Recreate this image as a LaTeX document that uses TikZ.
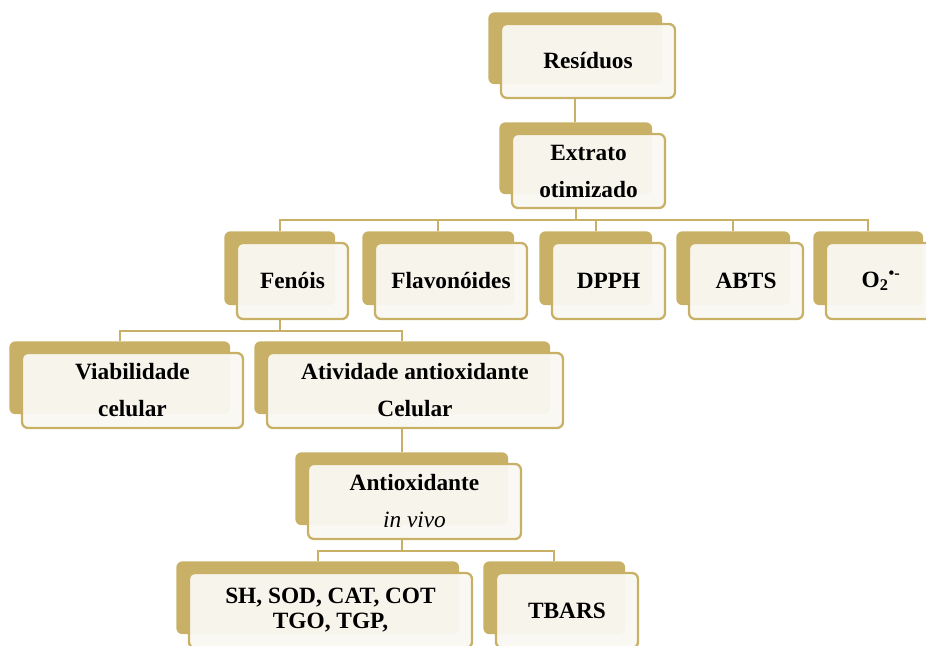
\documentclass[tikz,border=0pt]{standalone}
\usepackage{fontspec}
\setmainfont{Liberation Serif}
\usetikzlibrary{backgrounds}
\definecolor{gold}{RGB}{200,177,102}
\definecolor{cream}{RGB}{250,248,243}
\begin{document}
\begin{tikzpicture}[x=0.75pt,y=-0.75pt,
  front/.style 2 args={draw=gold, line width=1.7pt, fill=cream, fill opacity=0.95, text opacity=1,
    rounded corners=4.5pt, minimum width=#1*0.75pt, minimum height=#2*0.75pt, inner sep=0pt,
    align=center, font=\fontsize{17.5}{27.75}\selectfont\bfseries},
  tight/.style={font=\fontsize{17.5}{18.75}\selectfont\bfseries},
  backbox/.style={fill=gold, rounded corners=4.5pt},
  link/.style={draw=gold, line width=1.8pt}]
\useasboundingbox (0,0) rectangle (926,646);
\clip (0,0) rectangle (926,646);

\node[front={174}{74}] (res) at (588,61) {Resíduos};
\node[front={153}{74}] (ext) at (588.5,171) {Extrato\\otimizado};
\node[front={111}{76}] (fen) at (292.5,281) {Fenóis};
\node[front={152}{76}] (fla) at (451,281) {Flavonóides};
\node[front={113}{76}] (dpph) at (608.5,281) {DPPH};
\node[front={114}{76}] (abts) at (746,281) {ABTS};
\node[front={110}{76}] (o2) at (881,281) {O\textsubscript{2}\textsuperscript{•-}};
\node[front={221}{75}] (via) at (132.5,390.5) {Viabilidade\\celular};
\node[front={296}{75}] (ati) at (415,390.5) {Atividade antioxidante\\Celular};
\node[front={213}{75}] (anti) at (414.5,501.5) {Antioxidante\\{\mdseries\itshape in vivo}};
\node[front={283}{75}, tight] (sh) at (330.5,610.5) {SH, SOD, CAT, COT\\TGO, TGP,};
\node[front={142}{75}] (tb) at (567,610.5) {TBARS};

\foreach \n in {res,ext,fen,fla,dpph,abts,o2,via,ati,anti,sh,tb}{
  \coordinate (\n-t) at ([shift={(-12.75,-10.5)}]\n.north);
  \coordinate (\n-b) at ([shift={(-12.75,0)}]\n.south);
}
\coordinate (bus1) at (0,220);
\coordinate (bus2) at (0,331);
\coordinate (bus3) at (0,551);

\begin{scope}[on background layer]
\fill[white] (0,0) rectangle (926,646);
\foreach \n in {res,ext,fen,fla,dpph,abts,o2,via,ati,anti,sh,tb}{
  \fill[backbox] ([shift={(-11.5,-10.5)}]\n.north west) rectangle ([shift={(-14,-15)}]\n.south east);
}
\draw[link] (res-b) -- (res-b |- ext-t);
\draw[link] (ext-b) -- (ext-b |- bus1);
\draw[link] (fen-t) -- (fen-t |- bus1) -- (o2-t |- bus1) -- (o2-t);
\foreach \n in {fla,dpph,abts}{ \draw[link] (\n-t) -- (\n-t |- bus1); }
\draw[link] (fen-b) -- (fen-b |- bus2);
\draw[link] (via-t) -- (via-t |- bus2) -- (ati-t |- bus2) -- (ati-t);
\draw[link] (ati-b) -- (ati-b |- anti-t);
\draw[link] (anti-b) -- (anti-b |- bus3);
\draw[link] (sh-t) -- (sh-t |- bus3) -- (tb-t |- bus3) -- (tb-t);
\end{scope}
\end{tikzpicture}
\end{document}
